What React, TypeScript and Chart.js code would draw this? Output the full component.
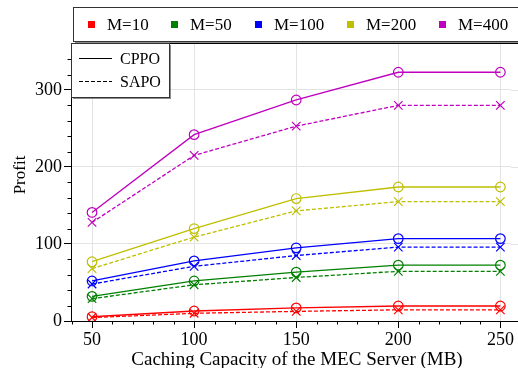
import React, { useEffect, useRef } from "react";
import { Chart, registerables } from "chart.js";

Chart.register(...registerables);

const capacities = [50, 100, 150, 200, 250];
const xTicks = [50, 100, 150, 200, 250];
const yTicks = [0, 100, 200, 300];

const cppo10 = [5.5, 13, 17, 19.5, 19.5];
const sapo10 = [4.5, 10, 12.5, 14.5, 14.5];
const cppo50 = [32, 52, 63.5, 72.5, 72.5];
const sapo50 = [29, 47, 56.5, 64.5, 64.5];
const cppo100 = [52, 78, 95, 107, 107];
const sapo100 = [48, 71, 85, 96, 96];
const cppo200 = [77, 120, 159, 174, 174];
const sapo200 = [68, 109, 143, 155, 155];
const cppo400 = [141, 242, 287, 323, 323];
const sapo400 = [128, 215, 253, 280, 280];

const groupLabels = ["M=10", "M=50", "M=100", "M=200", "M=400"];
const groupColors = ["#ff0000", "#008000", "#0000ff", "#bfbf00", "#bf00bf"];
const methodLabels = ["CPPO", "SAPO"];
const cppoSeries = [cppo10, cppo50, cppo100, cppo200, cppo400];
const sapoSeries = [sapo10, sapo50, sapo100, sapo200, sapo400];

const xTitle = "Caching Capacity of the MEC Server (MB)";
const yTitle = "Profit";
const SERIF = "'Liberation Serif', 'Times New Roman', serif";
const GRID = "#e3e3e3";

const toPts = (arr: number[]) => arr.map((v, i) => ({ x: capacities[i], y: v }));

const decorPlugin = {
  id: "decor",
  beforeDatasetsDraw(chart: any) {
    const ctx = chart.ctx as CanvasRenderingContext2D;
    const area = chart.chartArea;
    const ys = chart.scales.y;
    ctx.save();
    ctx.lineWidth = 1;
    ctx.strokeStyle = GRID;
    ctx.beginPath();
    for (const v of yTicks) {
      if (v === 0) continue;
      const py = Math.round(ys.getPixelForValue(v)) + 0.5;
      ctx.moveTo(area.right, py);
      ctx.lineTo(518, py);
    }
    ctx.stroke();
    ctx.strokeStyle = "#000";
    ctx.beginPath();
    const by = Math.round(area.bottom) + 0.5;
    ctx.moveTo(area.right - 1, by);
    ctx.lineTo(518, by);
    ctx.stroke();
    ctx.restore();
  },
  afterDraw(chart: any) {
    const ctx = chart.ctx as CanvasRenderingContext2D;
    const area = chart.chartArea;
    const xs = chart.scales.x;
    const ys = chart.scales.y;
    ctx.save();
    // minor ticks
    ctx.strokeStyle = "#000";
    ctx.lineWidth = 1;
    ctx.beginPath();
    for (let v = 20; v < 360; v += 20) {
      if (v % 100 === 0) continue;
      const py = Math.round(ys.getPixelForValue(v)) + 0.5;
      ctx.moveTo(area.left, py);
      ctx.lineTo(area.left - 3.5, py);
    }
    for (let v = 40; v <= 260; v += 10) {
      if (v % 50 === 0) continue;
      const px = Math.round(xs.getPixelForValue(v)) + 0.5;
      ctx.moveTo(px, area.bottom);
      ctx.lineTo(px, area.bottom + 3.5);
    }
    ctx.stroke();
    // top border
    ctx.beginPath();
    ctx.moveTo(area.left, area.top + 0.5);
    ctx.lineTo(518, area.top + 0.5);
    ctx.stroke();

    // titles
    ctx.fillStyle = "#000";
    ctx.font = `19px ${SERIF}`;
    ctx.textAlign = "center";
    ctx.textBaseline = "alphabetic";
    ctx.fillText(xTitle, 297, 365);
    ctx.save();
    ctx.translate(25, 175);
    ctx.rotate(-Math.PI / 2);
    ctx.font = `17px ${SERIF}`;
    ctx.fillText(yTitle, 0, 0);
    ctx.restore();

    const drawBox = (x: number, y: number, w: number, h: number) => {
      ctx.fillStyle = "rgba(0,0,0,0.45)";
      ctx.fillRect(x + 2, y + 2, w, h);
      ctx.fillStyle = "#fff";
      ctx.fillRect(x, y, w, h);
      ctx.strokeStyle = "#333";
      ctx.lineWidth = 1;
      ctx.strokeRect(x + 0.5, y + 0.5, w, h);
    };
    // top legend box
    drawBox(73, 7, 460, 34);
    const sqX = [91, 174, 258, 350, 442];
    ctx.font = `17px ${SERIF}`;
    ctx.textAlign = "left";
    for (let i = 0; i < groupLabels.length; i++) {
      ctx.fillStyle = groupColors[i];
      ctx.fillRect(sqX[i] - 3, 21, 7, 7);
      ctx.fillStyle = "#000";
      ctx.fillText(groupLabels[i], sqX[i] + 16, 30);
    }

    // method legend box
    drawBox(71, 43, 98, 54);
    ctx.font = `16px ${SERIF}`;
    ctx.strokeStyle = "#000";
    ctx.lineWidth = 1.2;
    ctx.setLineDash([]);
    ctx.beginPath();
    ctx.moveTo(79, 58.5);
    ctx.lineTo(112, 58.5);
    ctx.stroke();
    ctx.setLineDash([4, 2]);
    ctx.beginPath();
    ctx.moveTo(79, 81.5);
    ctx.lineTo(112, 81.5);
    ctx.stroke();
    ctx.setLineDash([]);
    ctx.fillStyle = "#000";
    ctx.fillText(methodLabels[0], 120, 64);
    ctx.fillText(methodLabels[1], 120, 87);
    ctx.restore();
  },
};

export default function App() {
  const ref = useRef<HTMLCanvasElement | null>(null);
  useEffect(() => {
    document.body.style.margin = "0";
    if (!ref.current) return;
    const datasets: any[] = [];
    for (let i = 0; i < groupLabels.length; i++) {
      datasets.push({
        label: `${groupLabels[i]} ${methodLabels[0]}`,
        data: toPts(cppoSeries[i]),
        borderColor: groupColors[i],
        backgroundColor: "transparent",
        borderWidth: 1.3,
        pointStyle: "circle",
        pointRadius: 4.8,
        pointBorderWidth: 1.2,
        pointBorderColor: groupColors[i],
        pointBackgroundColor: "transparent",
        tension: 0,
      });
      datasets.push({
        label: `${groupLabels[i]} ${methodLabels[1]}`,
        data: toPts(sapoSeries[i]),
        borderColor: groupColors[i],
        backgroundColor: "transparent",
        borderWidth: 1.3,
        borderDash: [4, 2],
        pointStyle: "crossRot",
        pointRadius: 6,
        pointBorderWidth: 1.2,
        pointBorderColor: groupColors[i],
        tension: 0,
      });
    }
    const chart = new Chart(ref.current, {
      type: "line",
      data: { datasets },
      plugins: [decorPlugin],
      options: {
        animation: false,
        responsive: false,
        devicePixelRatio: 1,
        layout: { padding: { top: 43, left: 0, right: 0, bottom: 0 } },
        plugins: { legend: { display: false }, tooltip: { enabled: false } },
        scales: {
          x: {
            type: "linear",
            min: 39.7,
            max: 255.1,
            afterBuildTicks: (s: any) => {
              s.ticks = xTicks.map((v) => ({ value: v }));
            },
            afterFit: (s: any) => {
              s.height = 47;
              s.paddingLeft = 0;
              s.paddingRight = 0;
            },
            grid: { color: GRID, tickColor: "#000", tickLength: 7, lineWidth: 1 },
            border: { color: "#000", width: 1 },
            ticks: { color: "#000", font: { family: SERIF, size: 18 }, padding: 1, maxRotation: 0 },
          },
          y: {
            type: "linear",
            min: 0,
            max: 361,
            afterBuildTicks: (s: any) => {
              s.ticks = yTicks.map((v) => ({ value: v }));
            },
            afterFit: (s: any) => {
              s.width = 71;
              s.paddingTop = 0;
              s.paddingBottom = 0;
            },
            grid: { color: GRID, tickColor: "#000", tickLength: 7, lineWidth: 1 },
            border: { color: "#000", width: 1 },
            ticks: { color: "#000", font: { family: SERIF, size: 18 }, padding: 2 },
          },
        },
      },
    });
    return () => chart.destroy();
  }, []);
  return (
    <div style={{ width: 518, height: 368 }}>
      <canvas ref={ref} width={518} height={368} style={{ display: "block" }} />
    </div>
  );
}
